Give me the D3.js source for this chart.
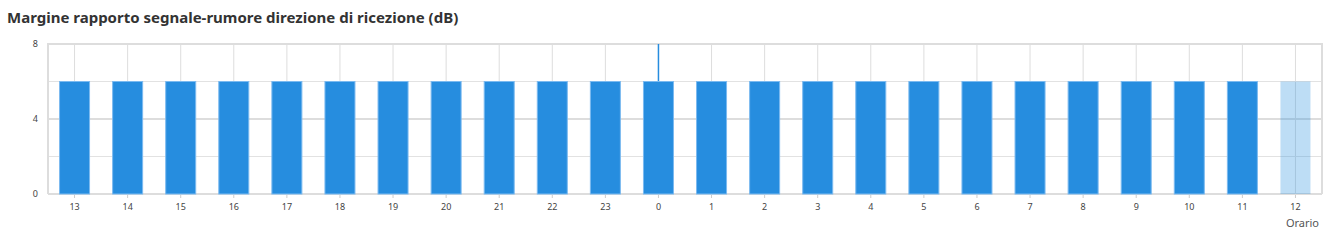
<!DOCTYPE html>
<html>
<head>
<meta charset="utf-8">
<script src="https://d3js.org/d3.v7.min.js"></script>
<style>
body { margin: 0; background: #fff; }
text { font-family: "Source Sans Pro", "Noto Sans", sans-serif; }
</style>
</head>
<body>
<svg id="chart"></svg>
<script>
// data
var hours = ["13","14","15","16","17","18","19","20","21","22","23","0","1","2","3","4","5","6","7","8","9","10","11","12"];
var snrMargin = [6,6,6,6,6,6,6,6,6,6,6,6,6,6,6,6,6,6,6,6,6,6,6,6];
var yTicks = [0, 4, 8];
var yGrid = [2, 6];
var markerHour = "0";   // day change marker
var currentHour = "12"; // still in progress, drawn light

var W = 1337, H = 244;
var pLeft = 48, pRight = 1322, pTop = 44, pBottom = 194;

var svg = d3.select("#chart").attr("width", W).attr("height", H);

var x = d3.scaleBand().domain(hours).range([pLeft, pRight]);
var y = d3.scaleLinear().domain([0, 8]).range([pBottom, pTop]);

svg.append("text")
    .attr("x", 7).attr("y", 23)
    .style("font-size", "15px").style("font-weight", "bold")
    .style("fill", "#333")
    .text("Margine rapporto segnale-rumore direzione di ricezione (dB)");

// grid
svg.append("g").selectAll("line").data(hours).enter().append("line")
    .attr("x1", function(d) { return x(d) + x.bandwidth() / 2; })
    .attr("x2", function(d) { return x(d) + x.bandwidth() / 2; })
    .attr("y1", pTop).attr("y2", pBottom)
    .style("stroke", "#ddd").style("stroke-width", 1);

svg.append("g").selectAll("line").data(yGrid).enter().append("line")
    .attr("x1", pLeft).attr("x2", pRight)
    .attr("y1", function(d) { return y(d); })
    .attr("y2", function(d) { return y(d); })
    .style("stroke", "#e2e2e2").style("stroke-width", 1);

svg.append("g").selectAll("line").data(yTicks).enter().append("line")
    .attr("x1", pLeft).attr("x2", pRight)
    .attr("y1", function(d) { return y(d); })
    .attr("y2", function(d) { return y(d); })
    .style("stroke", "#ddd").style("stroke-width", 2);

svg.append("line")
    .attr("x1", pLeft).attr("x2", pLeft).attr("y1", pTop - 1).attr("y2", pBottom)
    .style("stroke", "#ddd").style("stroke-width", 2);
svg.append("line")
    .attr("x1", pRight).attr("x2", pRight).attr("y1", pTop - 1).attr("y2", pBottom)
    .style("stroke", "#ddd").style("stroke-width", 2);

// marker line
svg.append("line")
    .attr("x1", x(markerHour) + x.bandwidth() / 2)
    .attr("x2", x(markerHour) + x.bandwidth() / 2)
    .attr("y1", pTop).attr("y2", pBottom)
    .style("stroke", "#268ddf").style("stroke-width", 1.5);

// bars
var bw = 30;
svg.append("g").selectAll("rect").data(snrMargin).enter().append("rect")
    .attr("x", function(d, i) { return x(hours[i]) + (x.bandwidth() - bw) / 2; })
    .attr("y", function(d) { return y(d); })
    .attr("width", bw)
    .attr("height", function(d) { return y(0) - y(d); })
    .style("fill", function(d, i) { return hours[i] == currentHour ? "rgba(38,141,223,0.3)" : "#268ddf"; })
    .style("stroke", function(d, i) { return hours[i] == currentHour ? "none" : "#7bbaf0"; })
    .style("stroke-width", 1);

// axes
var xAxis = svg.append("g")
    .attr("transform", "translate(0," + (pBottom + 1) + ")")
    .call(d3.axisBottom(x).tickSize(3).tickPadding(6));
xAxis.select(".domain").remove();
xAxis.selectAll("line").style("stroke", "#ccc");
xAxis.selectAll("text").style("font-size", "9px").style("fill", "#444");

var yAxis = svg.append("g")
    .attr("transform", "translate(" + (pLeft - 1) + ",0)")
    .call(d3.axisLeft(y).tickValues(yTicks).tickSize(0).tickPadding(9));
yAxis.select(".domain").remove();
yAxis.selectAll("text").style("font-size", "9px").style("fill", "#444");

svg.append("text")
    .attr("x", 1319).attr("y", 227)
    .attr("text-anchor", "end")
    .style("font-size", "11px").style("fill", "#555")
    .text("Orario");
</script>
</body>
</html>
